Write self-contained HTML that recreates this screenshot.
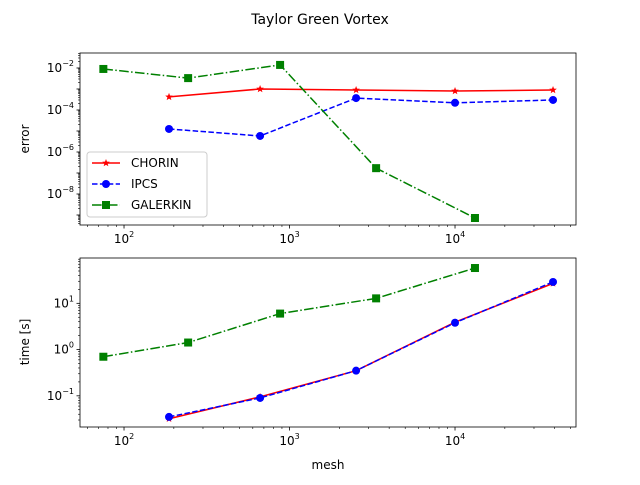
<!DOCTYPE html>
<html><head><meta charset="utf-8"><style>
body{margin:0;background:#fff}
svg text{font-family:"DejaVu Sans","Liberation Sans",sans-serif;fill:#000}
</style></head><body>
<svg id="c" width="640" height="480" xmlns="http://www.w3.org/2000/svg">
<text x="320" y="24" text-anchor="middle" font-size="14">Taylor Green Vortex</text>
</svg>
<script>
const meshIP=[187,664,2525,10000,39100];
const meshG=[75,244,877,3336,13200];
const errChorin=[4.2e-4,1e-3,9e-4,8e-4,9e-4];
const errIpcs=[1.25e-5,5.8e-6,3.7e-4,2.2e-4,3e-4];
const errGal=[9e-3,3.3e-3,1.4e-2,1.7e-7,7.2e-10];
const timeChorin=[0.032,0.095,0.35,3.9,27];
const timeIpcs=[0.035,0.09,0.35,3.8,29];
const timeGal=[0.7,1.42,6.0,12.8,58];
const xTickLabels=["2","3","4"];
const errTickExp=[-2,-4,-6,-8];
const timeTickExp=[1,0,-1];
const NS="http://www.w3.org/2000/svg",svg=document.getElementById('c');
function el(t,a,p){const e=document.createElementNS(NS,t);for(const k in a)e.setAttribute(k,a[k]);(p||svg).appendChild(e);return e;}
const L=80,R=576,xmin=1.734,xmax=4.731;
const X=v=>L+(Math.log10(v)-xmin)/(xmax-xmin)*(R-L);
function axes(top,bot,ymin,ymax,name){
  const Y=v=>bot-(Math.log10(v)-ymin)/(ymax-ymin)*(bot-top);
  const g=el('g',{});
  
  
  const r=el('rect',{x:L,y:top,width:R-L,height:bot-top,fill:'none',stroke:'#000','stroke-width':0.8},g);
  
  for(let d=1;d<=4;d++)for(let m=1;m<10;m++){const lv=d+Math.log10(m);if(lv<xmin||lv>xmax)continue;const x=L+(lv-xmin)/(xmax-xmin)*(R-L);
    el('line',{x1:x,x2:x,y1:bot,y2:bot+(m==1?3.5:2),stroke:'#000','stroke-width':m==1?0.8:0.6},g);}
  xTickLabels.forEach(s=>{const x=X(Math.pow(10,+s));const t=el('text',{x:x,y:bot+18,'text-anchor':'middle','font-size':12},g);t.innerHTML='10<tspan dy="-6" font-size="8">'+s+'</tspan>';
    });
  for(let d=Math.floor(ymin);d<=Math.ceil(ymax);d++)for(let m=1;m<10;m++){const lv=d+Math.log10(m);if(lv<ymin||lv>ymax)continue;const y=bot-(lv-ymin)/(ymax-ymin)*(bot-top);
    el('line',{x1:L,x2:L-(m==1?3.5:2),y1:y,y2:y,stroke:'#000','stroke-width':m==1?0.8:0.6},g);}
  return {Y,g};
}
function series(a,xs,ys,color,dash,marker,name){
  const pts=xs.map((x,i)=>[X(x),a.Y(ys[i])]);
  const p=el('polyline',{points:pts.map(p=>p.join(',')).join(' '),fill:'none',stroke:color,'stroke-width':1.5,'stroke-dasharray':dash},a.g);
  
  pts.forEach(q=>{const m=drawMarker(a.g,q[0],q[1],color,marker);});
}
function drawMarker(g,x,y,c,m){
  if(m=='o')return el('circle',{cx:x,cy:y,r:4,fill:c},g);
  if(m=='s')return el('rect',{x:x-4,y:y-4,width:8,height:8,fill:c},g);
  const s=[];for(let i=0;i<10;i++){const r=i%2?1.7:4,a=-Math.PI/2+i*Math.PI/5;s.push((x+r*Math.cos(a))+','+(y+r*Math.sin(a)));}
  return el('polygon',{points:s.join(' '),fill:c},g);
}
const A=axes(53,225,-9.476,-1.286,'error-axes');
errTickExp.forEach(e=>{const t=el('text',{x:L-6,y:A.Y(Math.pow(10,e))+4,'text-anchor':'end','font-size':12},A.g);t.innerHTML='10<tspan dy="-6" font-size="8">\u2212'+(-e)+'</tspan>';});
series(A,meshIP,errChorin,'red','','*','chorin-error');
series(A,meshIP,errIpcs,'blue','5.5,2.4','o','ipcs-error');
series(A,meshG,errGal,'green','9.6,2.4,1.5,2.4','s','galerkin-error');
const B=axes(258,427,-1.674,1.98,'time-axes');
timeTickExp.forEach(e=>{const t=el('text',{x:L-6,y:B.Y(Math.pow(10,e))+4,'text-anchor':'end','font-size':12},B.g);t.innerHTML='10<tspan dy="-6" font-size="8">'+(e<0?'\u22121':e)+'</tspan>';});
series(B,meshIP,timeChorin,'red','','*','chorin-time');
series(B,meshIP,timeIpcs,'blue','5.5,2.4','o','ipcs-time');
series(B,meshG,timeGal,'green','9.6,2.4,1.5,2.4','s','galerkin-time');
let t=el('text',{x:29,y:139,'text-anchor':'middle','font-size':12,transform:'rotate(-90 29 139)'});t.textContent='error';
t=el('text',{x:29,y:342,'text-anchor':'middle','font-size':12,transform:'rotate(-90 29 342)'});t.textContent='time [s]';
t=el('text',{x:328,y:469,'text-anchor':'middle','font-size':12});t.textContent='mesh';
const lg=el('g',{});
el('rect',{x:87,y:152,width:120,height:65,rx:3,fill:'#fff','fill-opacity':0.8,stroke:'#ccc'},lg);
[['CHORIN','red','','*'],['IPCS','blue','5.5,2.4','o'],['GALERKIN','green','9.6,2.4,1.5,2.4','s']].forEach((d,i)=>{
  const y=163+i*21;const e=el('g',{},lg);
  el('line',{x1:92,x2:120,y1:y,y2:y,stroke:d[1],'stroke-width':1.5,'stroke-dasharray':d[2]},e);
  drawMarker(e,106,y,d[1],d[3]);
  const tx=el('text',{x:131,y:y+4,'font-size':12},e);tx.textContent=d[0];
});
</script>
</body></html>
